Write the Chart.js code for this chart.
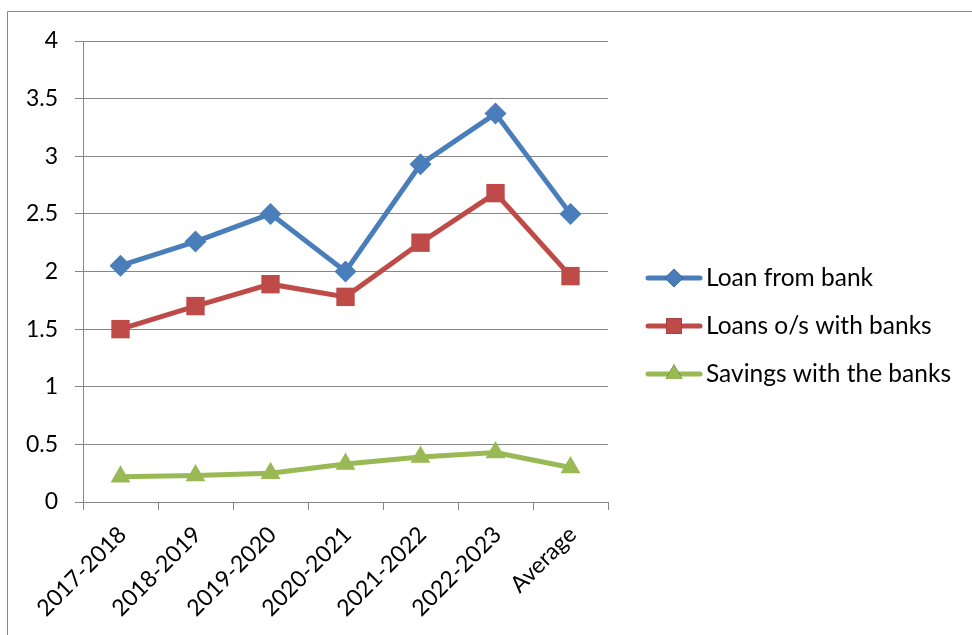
<!DOCTYPE html>
<html>
<head>
<meta charset="utf-8">
<script src="https://cdn.jsdelivr.net/npm/chart.js@4/dist/chart.umd.min.js"></script>
<style>
  html, body { margin: 0; padding: 0; background: #ffffff; }
  #wrap { width: 972px; height: 635px; position: relative; }
</style>
</head>
<body>
<div id="wrap"><canvas id="c" width="972" height="635"></canvas></div>
<script>
const categories = ["2017-2018", "2018-2019", "2019-2020", "2020-2021", "2021-2022", "2022-2023", "Average"];
const loanFromBank = [2.05, 2.26, 2.50, 2.00, 2.93, 3.37, 2.50];
const loansOsWithBanks = [1.50, 1.70, 1.89, 1.78, 2.25, 2.68, 1.96];
const savingsWithBanks = [0.22, 0.23, 0.25, 0.33, 0.39, 0.43, 0.30];
const seriesNames = ["Loan from bank", "Loans o/s with banks", "Savings with the banks"];
const yTicks = [0, 0.5, 1, 1.5, 2, 2.5, 3, 3.5, 4];

const FONT = "Lato, 'Open Sans', sans-serif";
const GRID = "#868686";

const frame = {
  id: 'frame',
  beforeDraw(chart) {
    const ctx = chart.ctx;
    ctx.save();
    ctx.strokeStyle = GRID;
    ctx.lineWidth = 1;
    ctx.beginPath();
    ctx.moveTo(7.5, 1000);
    ctx.lineTo(7.5, 11.5);
    ctx.lineTo(1000, 11.5);
    ctx.stroke();
    ctx.restore();
  }
};

const sideLegend = {
  id: 'sideLegend',
  afterDraw(chart) {
    const ctx = chart.ctx;
    const ys = [278, 326, 374];
    chart.data.datasets.forEach((ds, i) => {
      const y = ys[i];
      ctx.save();
      ctx.strokeStyle = ds.borderColor;
      ctx.lineWidth = ds.borderWidth;
      ctx.lineCap = 'round';
      ctx.beginPath();
      ctx.moveTo(648, y);
      ctx.lineTo(700, y);
      ctx.stroke();
      Chart.helpers.drawPoint(ctx, {
        pointStyle: ds.pointStyle,
        radius: ds.pointRadius * 0.85,
        borderWidth: 0,
        rotation: 0
      }, 674, y);
      ctx.fillStyle = ds.pointBackgroundColor;
      ctx.fill();
      ctx.fillStyle = '#000000';
      ctx.font = "24.5px " + FONT;
      ctx.textAlign = 'left';
      ctx.textBaseline = 'middle';
      ctx.fillText(ds.label, 706, y);
      ctx.restore();
    });
  }
};

const mk = (label, data, color, style, r) => ({
  label, data,
  borderColor: color,
  backgroundColor: color,
  pointBackgroundColor: color,
  pointBorderColor: color,
  pointBorderWidth: 0,
  borderWidth: 5,
  pointStyle: style,
  pointRadius: r,
  pointHoverRadius: r,
  tension: 0
});

new Chart(document.getElementById('c'), {
  type: 'line',
  data: {
    labels: categories,
    datasets: [
      mk(seriesNames[0], loanFromBank, '#4a7ebb', 'rectRot', 11),
      mk(seriesNames[1], loansOsWithBanks, '#be4b48', 'rect', 13),
      mk(seriesNames[2], savingsWithBanks, '#98b954', 'triangle', 11.5)
    ]
  },
  options: {
    responsive: false,
    animation: false,
    devicePixelRatio: 1,
    layout: { padding: { left: 0, right: 364, top: 41, bottom: 0 } },
    plugins: { legend: { display: false }, tooltip: { enabled: false } },
    scales: {
      x: {
        offset: true,
        grid: { display: true, drawOnChartArea: false, drawTicks: true, tickLength: 8, offset: true, color: GRID, lineWidth: 1 },
        border: { display: true, color: GRID, width: 1 },
        ticks: { color: '#000000', font: { family: FONT, size: 23 }, minRotation: 45, maxRotation: 45, padding: 11, labelOffset: 2, autoSkip: false },
        afterFit(s) { s.height = 133; }
      },
      y: {
        min: 0, max: 4,
        afterBuildTicks(s) { s.ticks = yTicks.map(v => ({ value: v })); },
        grid: { color: GRID, lineWidth: 1, drawTicks: true, tickLength: 8 },
        border: { display: true, color: GRID, width: 1 },
        ticks: { color: '#000000', font: { family: FONT, size: 23 }, padding: 17, callback: (v) => String(v) },
        afterFit(s) { s.width = 83; }
      }
    }
  },
  plugins: [frame, sideLegend]
});
</script>
</body>
</html>
